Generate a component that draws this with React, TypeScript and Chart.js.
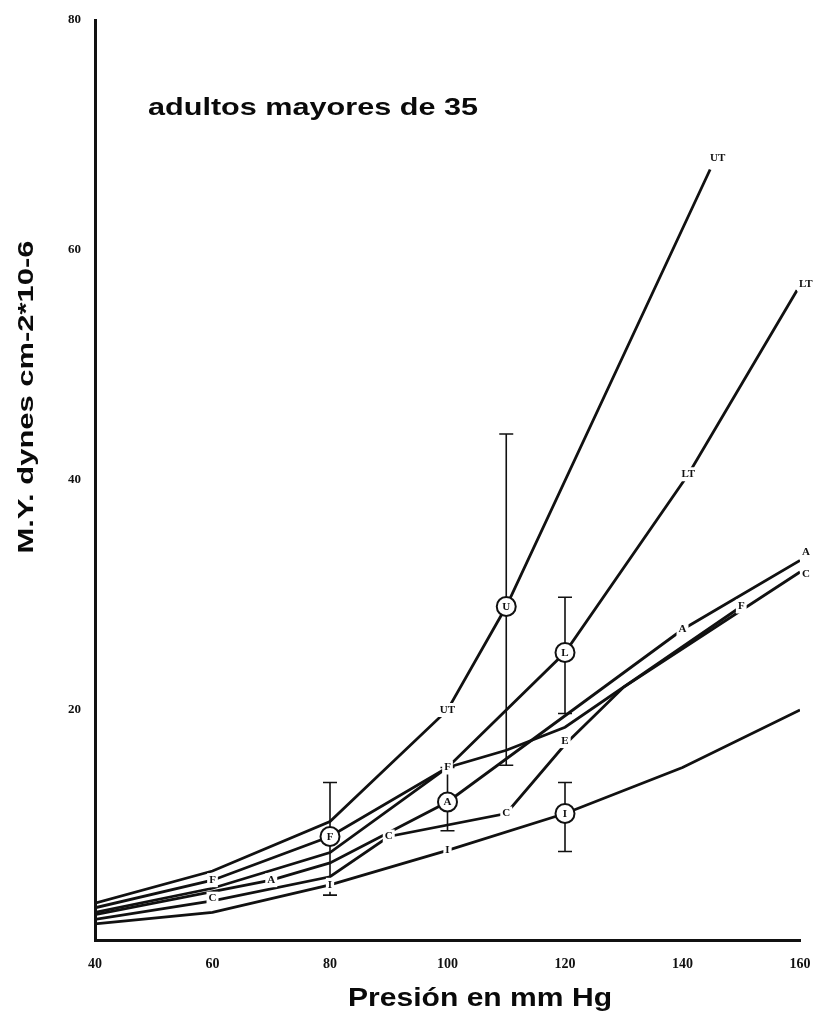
import { useEffect, useRef } from "react";
import { Chart, registerables } from "chart.js";
import type { Plugin } from "chart.js";

Chart.register(...registerables);

// curves (pressure in mm Hg -> M.Y. in dynes cm-2 * 10-6)
const xUT = [40, 60, 80, 100, 110, 144.7];
const yUT = [3.2, 6, 10.3, 20, 29, 67];
const xF = [40, 60, 80, 100, 110, 120, 150];
const yF = [2.8, 5.2, 9, 15, 16.5, 18.5, 29];
const xLT = [40, 60, 80, 100, 120, 141, 159.5];
const yLT = [2.4, 4.5, 7.6, 15, 25, 40.5, 56.5];
const xA = [40, 60, 70, 80, 100, 120, 140, 160];
const yA = [2.2, 4.2, 5.2, 6.7, 12, 19.5, 27, 33];
const xC = [40, 60, 80, 90, 110, 120, 130, 160];
const yC = [1.8, 3.4, 5.5, 9, 11, 17, 22, 32];
const xI = [40, 60, 80, 100, 120, 140, 160];
const yI = [1.4, 2.4, 4.8, 7.8, 11, 15, 20];

// error bars
const errX = [80, 100, 110, 120, 120];
const errLow = [3.9, 9.5, 15.2, 19.7, 7.7];
const errHigh = [13.7, 15, 44, 29.8, 13.7];

// circled means
const circleX = [80, 100, 110, 120, 120];
const circleY = [9, 12, 29, 25, 11];
const circleText = ["F", "A", "U", "L", "I"];

// letters written along the curves
const tagText = ["UT", "UT", "LT", "LT", "A", "C", "F", "F", "C", "C", "E", "I", "A", "A", "F", "C", "I"];
const tagX = [100, 146, 141, 161, 161, 161, 150, 100, 90, 110, 120, 100, 70, 140, 60, 60, 80];
const tagY = [20, 68, 40.5, 57, 33.7, 31.8, 29, 15, 9, 11, 17.3, 7.8, 5.2, 27, 5.2, 3.6, 4.8];

const xTicks = [40, 60, 80, 100, 120, 140, 160];
const yTicks = [20, 40, 60, 80];

const INK = "#111";

const pts = (xs: number[], ys: number[]) => xs.map((x, i) => ({ x, y: ys[i] }));

const series = [
  { label: "UT", data: pts(xUT, yUT) },
  { label: "F", data: pts(xF, yF) },
  { label: "LT", data: pts(xLT, yLT) },
  { label: "A", data: pts(xA, yA) },
  { label: "C", data: pts(xC, yC) },
  { label: "I", data: pts(xI, yI) },
];

function drawStretched(
  ctx: CanvasRenderingContext2D,
  text: string,
  cx: number,
  baseY: number,
  width: number,
  font: string,
  rotate = false
) {
  ctx.save();
  ctx.translate(cx, baseY);
  if (rotate) ctx.rotate(-Math.PI / 2);
  ctx.font = font;
  const w = ctx.measureText(text).width;
  ctx.scale(width / w, 1);
  ctx.textAlign = "center";
  ctx.textBaseline = "alphabetic";
  ctx.fillStyle = "#0a0a0a";
  ctx.fillText(text, 0, 0);
  ctx.restore();
}

const errorBars: Plugin = {
  id: "errorBars",
  beforeDatasetsDraw(chart) {
    const { ctx } = chart;
    const sx = chart.scales.x;
    const sy = chart.scales.y;
    ctx.save();
    ctx.strokeStyle = INK;
    ctx.lineWidth = 1.6;
    errX.forEach((x, i) => {
      const px = sx.getPixelForValue(x);
      const lo = sy.getPixelForValue(errLow[i]);
      const hi = sy.getPixelForValue(errHigh[i]);
      ctx.beginPath();
      ctx.moveTo(px, lo);
      ctx.lineTo(px, hi);
      ctx.moveTo(px - 7, lo);
      ctx.lineTo(px + 7, lo);
      ctx.moveTo(px - 7, hi);
      ctx.lineTo(px + 7, hi);
      ctx.stroke();
    });
    ctx.restore();
  },
};

const letters: Plugin = {
  id: "letters",
  afterDatasetsDraw(chart) {
    const { ctx } = chart;
    const sx = chart.scales.x;
    const sy = chart.scales.y;
    ctx.save();
    ctx.textAlign = "center";
    ctx.textBaseline = "middle";
    ctx.font = "bold 11px 'Liberation Serif'";
    tagText.forEach((t, i) => {
      const px = sx.getPixelForValue(tagX[i]);
      const py = sy.getPixelForValue(tagY[i]);
      const w = ctx.measureText(t).width + 4;
      ctx.fillStyle = "#fff";
      ctx.fillRect(px - w / 2, py - 7, w, 14);
      ctx.fillStyle = INK;
      ctx.fillText(t, px, py);
    });
    ctx.font = "bold 11px 'Liberation Serif'";
    circleText.forEach((t, i) => {
      ctx.fillStyle = INK;
      ctx.fillText(t, sx.getPixelForValue(circleX[i]), sy.getPixelForValue(circleY[i]) + 0.5);
    });
    ctx.restore();
  },
};

const titles: Plugin = {
  id: "titles",
  afterDraw(chart) {
    const { ctx } = chart;
    drawStretched(ctx, "adultos mayores de 35", 313, 115, 330, "bold 24px 'Liberation Sans'");
    drawStretched(ctx, "Presión en mm Hg", 480, 1006, 264, "bold 26px 'Liberation Sans'");
    drawStretched(ctx, "M.Y. dynes cm-2*10-6", 33, 397, 313, "bold 22px 'Liberation Sans'", true);
  },
};

export default function App() {
  const canvasRef = useRef<HTMLCanvasElement>(null);

  useEffect(() => {
    if (!canvasRef.current) return;
    Chart.defaults.font.family = "'Liberation Sans', Arial, sans-serif";

    const chart = new Chart(canvasRef.current, {
      type: "line",
      data: {
        datasets: [
          ...series.map((s) => ({
            label: s.label,
            data: s.data,
            borderColor: INK,
            borderWidth: 2.8,
            pointRadius: 0,
            tension: 0,
            fill: false,
            order: 2,
          })),
          {
            type: "scatter" as const,
            label: "means",
            data: pts(circleX, circleY),
            pointRadius: 9.5,
            pointBackgroundColor: "#fff",
            pointBorderColor: INK,
            pointBorderWidth: 2,
            showLine: false,
            order: 1,
          },
        ],
      },
      options: {
        animation: false,
        responsive: true,
        maintainAspectRatio: false,
        layout: { padding: { top: 20, right: 20, left: 0, bottom: 0 } },
        plugins: { legend: { display: false }, tooltip: { enabled: false } },
        scales: {
          x: {
            type: "linear",
            min: 40,
            max: 160,
            afterBuildTicks: (s) => {
              s.ticks = xTicks.map((v) => ({ value: v }));
            },
            afterFit: (s) => {
              s.height = 74;
            },
            ticks: {
              color: INK,
              padding: 8,
              font: { size: 14, weight: "bold", family: "'Liberation Serif'" },
              maxRotation: 0,
            },
            grid: { display: false },
            border: { display: true, color: INK, width: 3 },
          },
          y: {
            type: "linear",
            min: 0,
            max: 80,
            afterBuildTicks: (s) => {
              s.ticks = yTicks.map((v) => ({ value: v }));
            },
            afterFit: (s) => {
              s.width = 95;
            },
            ticks: {
              color: INK,
              padding: 6,
              font: { size: 13, weight: "bold", family: "'Liberation Serif'" },
            },
            grid: { display: false },
            border: { display: true, color: INK, width: 3 },
          },
        },
      },
      plugins: [errorBars, letters, titles],
    });

    return () => chart.destroy();
  }, []);

  return (
    <div style={{ position: "absolute", left: 0, top: 0, width: 820, height: 1014, background: "#fff" }}>
      <canvas ref={canvasRef} />
    </div>
  );
}
